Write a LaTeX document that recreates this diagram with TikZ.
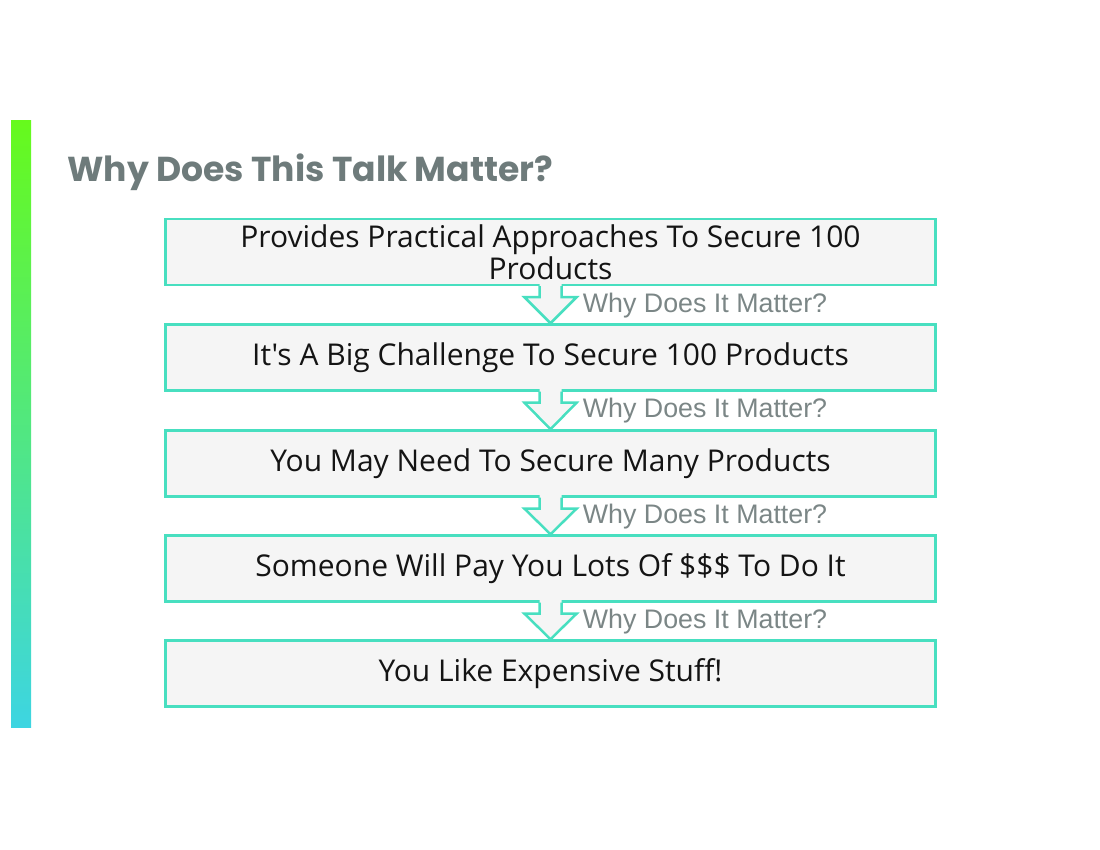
\documentclass[tikz,border=0pt]{standalone}
\usepackage{fontspec}
\setmainfont{Open Sans}[Ligatures=TeXOff]
\newfontfamily\titlefont{Poppins}
\newfontfamily\notefont{Liberation Sans}
\usetikzlibrary{calc}
\definecolor{boxline}{HTML}{48DFC0}
\definecolor{boxfill}{HTML}{F5F5F5}
\definecolor{notegray}{HTML}{7B8686}
\definecolor{titlegray}{HTML}{6E7B7B}
\definecolor{bartop}{HTML}{66FA1C}
\definecolor{barmid}{HTML}{52EE48}
\definecolor{barbot}{HTML}{3DD5E2}
\tikzset{
  stepbox/.style={draw=boxline, fill=boxfill, line width=1.25pt,
    minimum width=385pt, minimum height=33pt, inner sep=0pt,
    align=center, text=black!92, font=\fontsize{15}{16}\selectfont},
  why/.style={anchor=west, inner sep=0pt, text=notegray,
    font=\notefont\fontsize{13.4}{15}\selectfont},
}
\begin{document}
\begin{tikzpicture}[x=0.5pt,y=-0.5pt]
\useasboundingbox (0,0) rectangle (1100,850);
%
\shade[top color=bartop, middle color=barmid, bottom color=barbot] (11,121) rectangle (31,728);
\node[anchor=base west, inner sep=0pt, text=titlegray,
  font=\titlefont\bfseries\fontsize{17.3}{20}\selectfont] (title) at (67,182) {Why Does This Talk Matter?};
%
\node[stepbox] (s1) at (550.5,252) {Provides Practical Approaches To Secure 100\\Products};
\node[stepbox] (s2) at (550.5,357.5) {It's A Big Challenge To Secure 100 Products};
\node[stepbox] (s3) at (550.5,463.5) {You May Need To Secure Many Products};
\node[stepbox] (s4) at (550.5,568.5) {Someone Will Pay You Lots Of \$\$\$ To Do It};
\node[stepbox] (s5) at (550.5,673.5) {You Like Expensive Stuff!};
%
\foreach \a/\b [count=\i] in {s1/s2, s2/s3, s3/s4, s4/s5} {
  \fill[boxfill]
       ($(\a.south)+(-11,-3)$)
    -- ($(\a.south)+(-11,11)$)
    -- ($(\a.south)+(-26,11)$)
    -- (\b.north)
    -- ($(\a.south)+(26,11)$)
    -- ($(\a.south)+(11,11)$)
    -- ($(\a.south)+(11,-3)$)
    -- cycle;
  \draw[boxline, line width=1.25pt]
       ($(\a.south)+(-11,0)$)
    -- ($(\a.south)+(-11,11)$)
    -- ($(\a.south)+(-26,11)$)
    -- (\b.north)
    -- ($(\a.south)+(26,11)$)
    -- ($(\a.south)+(11,11)$)
    -- ($(\a.south)+(11,0)$);
  \node[why] (w\i) at ($(\a.south)+(32,19)$) {Why Does It Matter?};
}
\end{tikzpicture}
\end{document}
